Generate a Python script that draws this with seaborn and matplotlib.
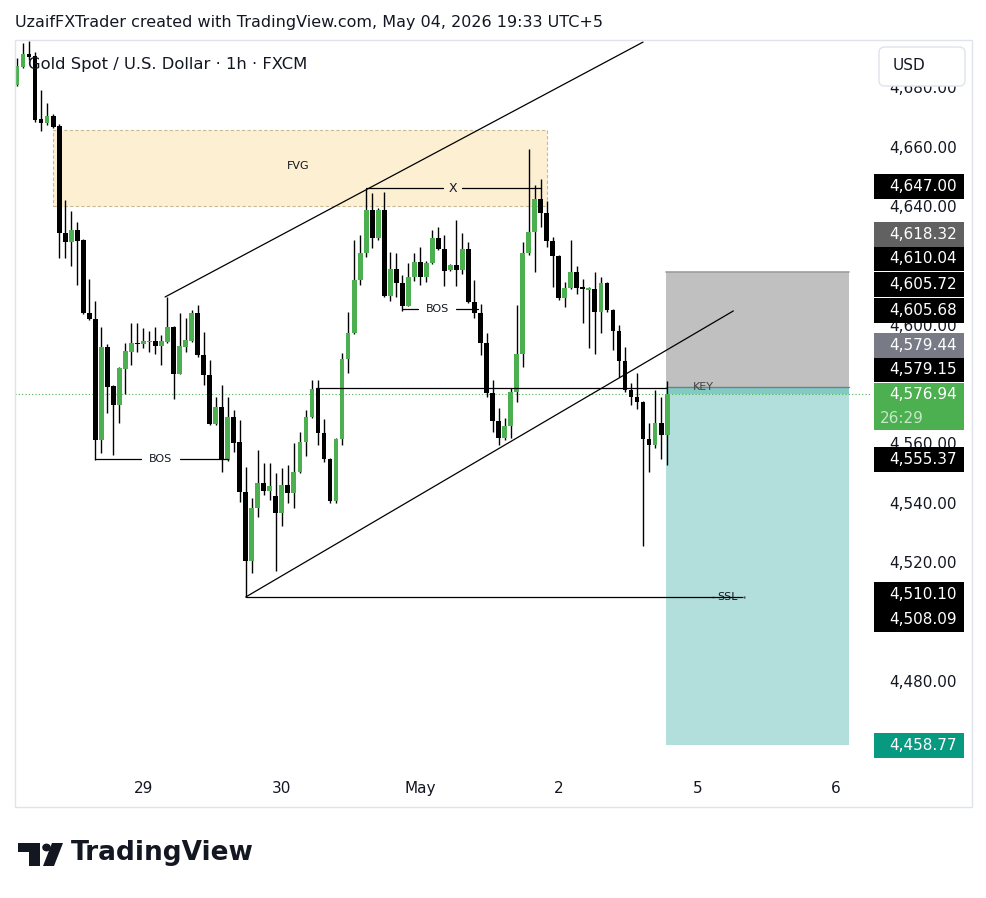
import pandas as pd
import seaborn as sns
import matplotlib.pyplot as plt
from matplotlib.patches import Rectangle, FancyBboxPatch, Polygon, Circle

# hourly XAUUSD candles
opens = [4681.3, 4687.3, 4691.7, 4691.0, 4669.8, 4668.4, 4670.8, 4667.4, 4631.4, 4628.3,
         4632.4, 4629.0, 4604.4, 4602.4, 4561.6, 4593.0, 4579.8, 4573.4, 4585.6, 4591.3,
         4594.3, 4594.0, 4594.5, 4595.0, 4593.3, 4594.6, 4599.7, 4583.9, 4593.0, 4595.0,
         4604.4, 4590.3, 4583.5, 4567.0, 4572.7, 4554.9, 4569.4, 4560.9, 4544.1, 4520.8,
         4538.7, 4547.1, 4544.4, 4542.7, 4537.0, 4546.5, 4543.8, 4550.8, 4560.9, 4569.4,
         4578.8, 4564.0, 4555.2, 4541.1, 4562.0, 4588.9, 4597.7, 4615.5, 4624.6, 4639.1,
         4629.7, 4639.1, 4610.1, 4619.2, 4614.5, 4606.8, 4616.5, 4621.6, 4616.5, 4621.3,
         4629.7, 4626.0, 4618.9, 4620.6, 4618.9, 4626.0, 4608.1, 4604.4, 4594.3, 4577.5,
         4568.0, 4562.3, 4566.3, 4577.8, 4590.6, 4624.6, 4631.7, 4642.8, 4638.1, 4628.7,
         4623.6, 4609.5, 4612.8, 4618.2, 4612.8, 4612.3, 4612.5, 4604.8, 4614.5, 4605.4,
         4598.4, 4588.2, 4578.5, 4576.1, 4574.4, 4562.0, 4559.9, 4567.4, 4563.3]
highs = [4690.4, 4695.4, 4696.1, 4692.4, 4679.6, 4675.2, 4671.5, 4668.1, 4642.5, 4638.8,
         4635.1, 4629.4, 4615.9, 4608.5, 4599.7, 4594.0, 4580.1, 4586.2, 4594.3, 4601.0,
         4601.0, 4599.4, 4598.4, 4599.7, 4597.0, 4609.8, 4599.9, 4604.4, 4602.7, 4605.4,
         4607.1, 4598.0, 4588.6, 4576.1, 4580.2, 4576.1, 4571.7, 4568.4, 4552.5, 4542.1,
         4558.3, 4553.9, 4553.9, 4550.5, 4552.2, 4553.2, 4560.6, 4564.3, 4571.7, 4581.8,
         4581.8, 4568.7, 4555.4, 4562.3, 4591.0, 4604.7, 4629.0, 4630.7, 4646.2, 4644.9,
         4639.8, 4645.2, 4625.0, 4624.6, 4617.2, 4621.3, 4624.6, 4626.7, 4621.8, 4632.4,
         4633.4, 4630.7, 4620.9, 4635.8, 4631.4, 4628.3, 4615.5, 4607.5, 4597.7, 4581.8,
         4572.4, 4569.0, 4579.1, 4607.1, 4628.3, 4659.7, 4647.6, 4649.6, 4642.2, 4630.0,
         4624.0, 4614.9, 4629.0, 4620.3, 4615.9, 4613.2, 4618.2, 4616.5, 4614.9, 4605.6,
         4600.4, 4592.9, 4580.8, 4584.2, 4574.8, 4567.4, 4578.5, 4576.1, 4581.5]
lows = [4680.9, 4687.0, 4689.7, 4668.8, 4665.8, 4667.8, 4666.8, 4623.0, 4623.0, 4620.3,
        4613.9, 4604.1, 4602.1, 4554.9, 4557.2, 4570.7, 4556.6, 4567.4, 4577.1, 4586.9,
        4591.3, 4592.6, 4591.3, 4590.6, 4586.9, 4594.3, 4575.4, 4583.7, 4591.3, 4594.6,
        4589.6, 4580.2, 4566.7, 4566.7, 4550.8, 4554.5, 4557.6, 4540.7, 4508.7, 4516.8,
        4535.7, 4543.1, 4541.4, 4517.5, 4532.6, 4540.4, 4538.7, 4550.5, 4556.2, 4569.0,
        4559.9, 4554.2, 4540.4, 4540.4, 4559.9, 4584.2, 4597.3, 4613.9, 4623.3, 4626.3,
        4629.0, 4609.8, 4608.5, 4609.8, 4605.1, 4606.6, 4615.2, 4613.9, 4614.9, 4620.9,
        4625.6, 4613.5, 4618.6, 4613.5, 4617.6, 4607.9, 4602.7, 4590.3, 4576.1, 4564.3,
        4559.9, 4561.6, 4562.3, 4574.4, 4586.2, 4624.0, 4618.2, 4633.4, 4626.7, 4613.2,
        4608.8, 4606.4, 4612.5, 4610.8, 4601.0, 4592.6, 4590.6, 4597.7, 4604.8, 4591.9,
        4582.9, 4577.8, 4573.4, 4572.1, 4525.9, 4550.8, 4558.9, 4555.2, 4553.2]
closes = [4687.7, 4691.7, 4690.7, 4669.5, 4668.4, 4670.8, 4667.1, 4631.4, 4628.3, 4632.4,
          4628.7, 4604.4, 4602.4, 4561.6, 4593.0, 4579.5, 4573.4, 4585.9, 4591.6, 4594.3,
          4593.8, 4595.0, 4594.9, 4593.3, 4595.0, 4599.7, 4583.9, 4593.3, 4595.3, 4604.4,
          4590.3, 4583.5, 4567.0, 4572.7, 4554.9, 4569.4, 4560.6, 4544.1, 4520.8, 4538.7,
          4547.1, 4544.4, 4546.1, 4537.0, 4546.5, 4543.8, 4550.8, 4560.9, 4569.4, 4578.8,
          4564.0, 4555.2, 4541.1, 4562.0, 4588.9, 4597.7, 4615.5, 4624.6, 4639.1, 4629.7,
          4639.1, 4610.1, 4619.2, 4614.5, 4606.8, 4616.5, 4621.6, 4616.5, 4621.3, 4629.7,
          4626.0, 4618.6, 4620.6, 4618.9, 4626.0, 4608.1, 4604.4, 4594.3, 4577.5, 4568.0,
          4562.3, 4566.3, 4577.8, 4590.6, 4624.6, 4631.7, 4642.8, 4638.1, 4628.7, 4623.6,
          4609.5, 4612.8, 4618.2, 4612.8, 4612.5, 4612.7, 4604.8, 4614.5, 4605.4, 4598.4,
          4588.2, 4578.5, 4576.1, 4574.4, 4562.0, 4559.9, 4567.4, 4563.3, 4576.94]

day_ticks = [21, 44, 67, 90, 113, 136]
day_labels = ["29", "30", "May", "2", "5", "6"]
# grid prices whose labels are not covered by a price tag
price_ticks = [4480, 4520, 4540, 4560, 4600, 4640, 4660, 4680]

# drawings (bar index, price)
fvg_zone = (6.0, 88.1, 4640.6, 4666.1)
channel_upper = [(24.6, 4609.8), (104.0, 4695.7)]
channel_lower = [(38.0, 4508.7), (119.0, 4605.1)]
x_level = (58, 87, 4646.5)
bos_lo = (13, 35, 4555.37)
bos_hi = (64, 76.6, 4605.68)
key_level = (49.7, 107.8, 4579.15)
ssl_level = (38, 115.5, 4508.7)
entry, stop, target = 4579.44, 4618.32, 4458.77
last_price = 4576.94

# price scale tags (text, colour, vertical slot)
tag_texts = ["4,647.00", "4,618.32", "4,610.04", "4,605.72", "4,605.68", "4,579.44",
             "4,579.15", "4,555.37", "4,510.10", "4,508.09", "4,458.77"]
tag_colors = ["#000000", "#616161", "#000000", "#000000", "#000000", "#787b86",
              "#000000", "#000000", "#000000", "#000000", "#089981"]
tag_slots = [4646.9, 4631.0, 4622.6, 4613.9, 4605.1, 4593.6, 4585.2, 4554.9,
             4509.4, 4501.0, 4458.5]

sns.set_style("white")
plt.rcParams['font.family'] = ['DejaVu Sans']

W, H = 987, 898
fig = plt.figure(figsize=(W / 100, H / 100), dpi=100)
fig.patch.set_facecolor("white")
TXT = "#131722"
GREEN = "#4caf50"


def fx(px):
    return px / W


def fy(py):
    return 1 - py / H


top, bot = 40, 770
ax = fig.add_axes([fx(15), fy(bot), fx(870 - 15), (bot - top) / H])
pax = fig.add_axes([fx(870), fy(bot), fx(102), (bot - top) / H])
ylim = (4450.4, 4696.4)
ax.set_xlim(-0.33, 141.7)
ax.set_ylim(*ylim)
pax.set_xlim(0, 1)
pax.set_ylim(*ylim)
pax.axis("off")
for s in ax.spines.values():
    s.set_visible(False)

# FVG zone
x0, x1, y0, y1 = fvg_zone
ax.add_patch(Rectangle((x0, y0), x1 - x0, y1 - y0, facecolor="#fdf0d2",
                       edgecolor="#c8b995", lw=0.8, ls=(0, (3, 2)), zorder=0.5))
ax.text(46.7, 4654.0, "FVG", fontsize=8, color=TXT, ha="center", va="center")

# position tool
px0, px1 = 107.8, 138.2
ax.add_patch(Rectangle((px0, entry), px1 - px0, stop - entry, facecolor="#c0c0c0",
                       edgecolor="none", zorder=0.6))
ax.add_patch(Rectangle((px0, target), px1 - px0, entry - target, facecolor="#b2dfdb",
                       edgecolor="none", zorder=0.6))
ax.add_patch(Rectangle((px0, last_price), px1 - px0, entry - last_price,
                       facecolor="#80cbc4", edgecolor="none", zorder=0.7))
ax.plot([px0, px1], [stop, stop], color="#9e9e9e", lw=1.2, zorder=0.8)
ax.plot([px0, px1], [entry, entry], color="#787b86", lw=1.0, zorder=0.8)

# candles: black wicks, green / black bodies
df = pd.DataFrame({"open": opens, "high": highs, "low": lows, "close": closes})
df["i"] = range(len(df))
colors = [GREEN if c >= o else "#000000" for o, c in zip(df["open"], df["close"])]
ax.vlines(df["i"], df["low"], df["high"], colors="black", lw=1.0, zorder=2)
body_lo = df[["open", "close"]].min(axis=1)
body_h = (df["close"] - df["open"]).abs().clip(lower=0.6)
ax.bar(df["i"], body_h, bottom=body_lo, width=0.8, color=colors, linewidth=0, zorder=2.5)

# channel lines
lines = pd.DataFrame(
    [(p[0], p[1], "up") for p in channel_upper] + [(p[0], p[1], "lo") for p in channel_lower],
    columns=["x", "y", "seg"])
sns.lineplot(data=lines, x="x", y="y", units="seg", estimator=None, color="black",
             lw=0.9, ax=ax, zorder=3, legend=False)
ax.set_xlabel("")
ax.set_ylabel("")


def level(a, b, y, label, lx, gap, fs=8, lw=0.9):
    ax.plot([a, lx - gap], [y, y], color="black", lw=lw, zorder=3)
    ax.plot([lx + gap, b], [y, y], color="black", lw=lw, zorder=3)
    ax.text(lx, y, label, fontsize=fs, color=TXT, ha="center", va="center", zorder=4)


level(x_level[0], x_level[1], x_level[2], "X", 72.4, 1.6, fs=9)
level(bos_lo[0], bos_lo[1], bos_lo[2], "BOS", 23.8, 3.2)
level(bos_hi[0], bos_hi[1], bos_hi[2], "BOS", 69.8, 3.2)
level(ssl_level[0], ssl_level[1], ssl_level[2], "SSL", 118.1, 2.3)
ax.plot([120.8], [ssl_level[2]], marker=".", ms=1.5, color="#555555")
ax.plot([key_level[0], key_level[1]], [key_level[2]] * 2, color="black", lw=0.9, zorder=3)
ax.text(114.0, key_level[2] + 0.2, "KEY", fontsize=8, color="#444444", ha="center",
        va="center", zorder=4)

# last price dotted line
ax.axhline(last_price, color=GREEN, lw=0.8, ls=(0, (1, 2)), zorder=1)

# time axis
ax.set_xticks(day_ticks)
ax.set_xticklabels(day_labels, fontsize=11, color=TXT)
ax.tick_params(axis="x", length=0, pad=8)
ax.set_yticks([])

# price axis
for p in price_ticks:
    pax.text(0.853, p, f"{p:,.2f}", fontsize=11, color=TXT, ha="right", va="center",
             zorder=1, clip_on=False)
bx0, bx1 = 0.04, 0.92
hh = 8.4
for t, c, s in zip(tag_texts, tag_colors, tag_slots):
    pax.add_patch(Rectangle((bx0, s - hh / 2), bx1 - bx0, hh, facecolor=c,
                            edgecolor="none", zorder=3, clip_on=False))
    pax.text(0.853, s, t, fontsize=11, color="white", ha="right", va="center",
             zorder=4, clip_on=False)
pax.add_patch(Rectangle((bx0, 4565.0), bx1 - bx0, 15.8, facecolor=GREEN,
                        edgecolor="none", zorder=3, clip_on=False))
pax.text(0.853, 4576.8, "4,576.94", fontsize=11, color="white", ha="right", va="center",
         zorder=4, clip_on=False)
pax.text(0.1, 4569.0, "26:29", fontsize=11, color="#c8e6c9", ha="left",
         va="center", zorder=4, clip_on=False)

# frame, header, title, currency box
fig.add_artist(Rectangle((fx(15), fy(807)), fx(972 - 15), (807 - 40) / H,
                         transform=fig.transFigure, fill=False, edgecolor="#e0e3eb", lw=1))
fig.text(fx(15), fy(22), "UzaifFXTrader created with TradingView.com, May 04, 2026 19:33 UTC+5",
         fontsize=11.5, color=TXT, ha="left", va="center")
fig.text(fx(28), fy(64), "Gold Spot / U.S. Dollar \u00b7 1h \u00b7 FXCM", fontsize=11.8,
         color=TXT, ha="left", va="center", zorder=5)
fig.add_artist(FancyBboxPatch((fx(879), fy(86)), fx(86), 39 / H,
                              boxstyle="round,pad=0,rounding_size=0.006",
                              transform=fig.transFigure, facecolor="white",
                              edgecolor="#e0e3eb", lw=1, zorder=6))
fig.text(fx(893), fy(66), "USD", fontsize=11, color=TXT, ha="left", va="center", zorder=7)

# TradingView logo
fig.add_artist(Polygon([(fx(18), fy(843)), (fx(40), fy(843)), (fx(40), fy(866)),
                        (fx(29), fy(866)), (fx(29), fy(852)), (fx(18), fy(852))],
                       closed=True, transform=fig.transFigure, facecolor="#131722",
                       edgecolor="none"))
fig.add_artist(Circle((fx(46.5), fy(847.5)), fx(4.3), transform=fig.transFigure,
                      facecolor="#131722", edgecolor="none"))
fig.add_artist(Polygon([(fx(52), fy(843)), (fx(63), fy(843)), (fx(54), fy(866)),
                        (fx(43), fy(866))], closed=True, transform=fig.transFigure,
                       facecolor="#131722", edgecolor="none"))
fig.text(fx(71), fy(853), "TradingView", fontsize=19, fontweight="bold", color="#131722",
         ha="left", va="center")

fig.savefig("out.png", dpi=100, facecolor="white")
